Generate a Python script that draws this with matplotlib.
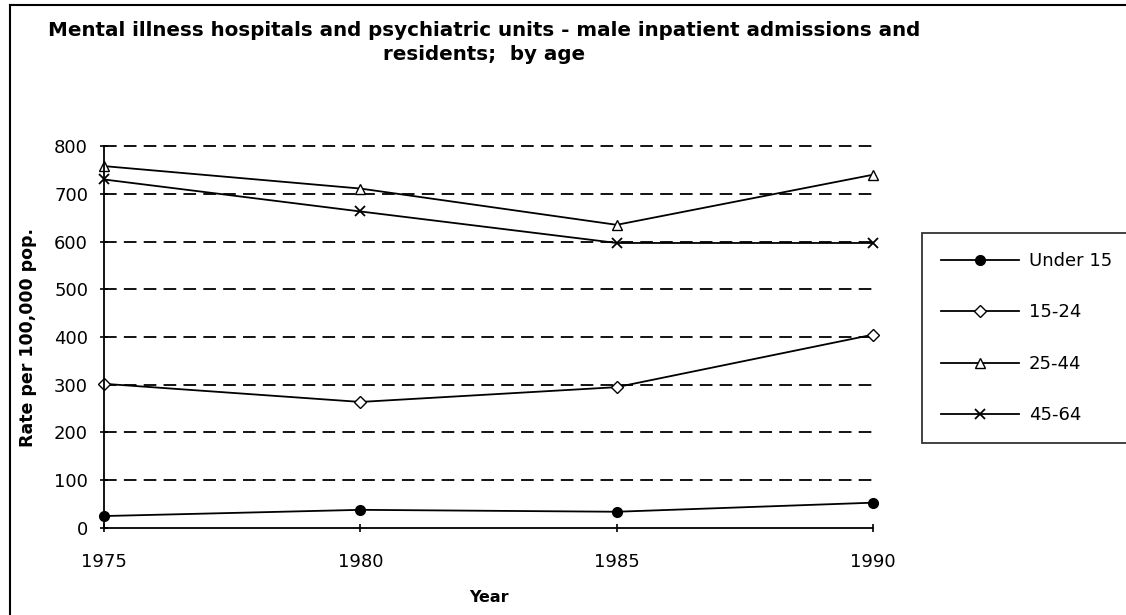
import matplotlib.pyplot as plt
from matplotlib.lines import Line2D

years = [1975, 1980, 1985, 1990]
under_15 = [25, 38, 34, 53]
age_15_24 = [302, 264, 295, 405]
age_25_44 = [758, 711, 635, 740]
age_45_64 = [730, 663, 597, 597]
labels = ['Under 15', '15-24', '25-44', '45-64']

plt.rcParams['font.family'] = ['DejaVu Sans']

fig = plt.figure(figsize=(11.26, 6.15), dpi=100)
ax = fig.add_axes([0.0924, 0.1415, 0.683, 0.621])

# series
ax.plot(years, under_15, color='black', lw=1.3, marker='o', ms=7, mfc='black', mec='black', label=labels[0])
ax.plot(years, age_15_24, color='black', lw=1.3, marker='D', ms=6, mfc='white', mec='black', label=labels[1])
ax.plot(years, age_25_44, color='black', lw=1.3, marker='^', ms=7, mfc='white', mec='black', label=labels[2])
ax.plot(years, age_45_64, color='black', lw=1.3, marker='x', ms=7, mec='black', mew=1.3, label=labels[3])

ax.set_xlim(1975, 1990)
ax.set_ylim(0, 800)
ax.set_xticks(years)
ax.set_yticks(range(0, 801, 100))
for v in range(100, 801, 100):
    ax.axhline(v, color='black', lw=1.3, ls=(0, (7, 4)), zorder=0)

for s in ['top', 'right']:
    ax.spines[s].set_visible(False)
ax.spines['left'].set_linewidth(1.3)
ax.spines['bottom'].set_linewidth(1.3)
ax.tick_params(direction='inout', length=6, width=1.2, labelsize=13)
ax.tick_params(axis='y', pad=8.5)
ax.tick_params(axis='x', pad=15)
for l in ax.lines:
    l.set_clip_on(False)

ax.set_xlabel('Year', fontsize=11.5, fontweight='bold', labelpad=14)
ax.set_ylabel('Rate per 100,000 pop.', fontsize=12.5, fontweight='bold', labelpad=12)

fig.text(0.43, 0.951, 'Mental illness hospitals and psychiatric units - male inpatient admissions and',
         ha='center', va='center', fontsize=14.3, fontweight='bold')
fig.text(0.43, 0.911, 'residents;  by age', ha='center', va='center', fontsize=14.3, fontweight='bold')

# legend box
leg = fig.legend(loc='upper left', bbox_to_anchor=(0.819, 0.621), fontsize=13,
                 handlelength=4.3, labelspacing=1.85, borderpad=1.05, handletextpad=0.55,
                 frameon=True, fancybox=False, borderaxespad=0)
leg.get_frame().set_edgecolor('black')
leg.get_frame().set_linewidth(1.3)

# outer frame
fig.add_artist(Line2D([0.009, 0.009], [0.0, 0.992], color='black', lw=1.5, transform=fig.transFigure))
fig.add_artist(Line2D([0.009, 1.0], [0.992, 0.992], color='black', lw=1.5, transform=fig.transFigure))

fig.savefig('out.png', dpi=100)
